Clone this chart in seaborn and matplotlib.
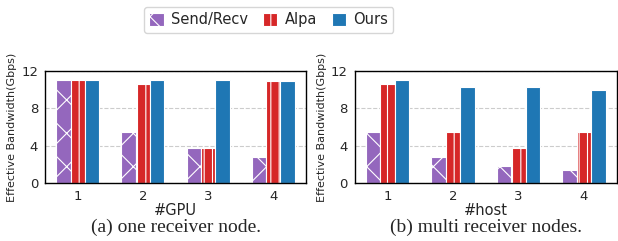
import matplotlib
matplotlib.use("Agg")
import matplotlib.pyplot as plt
import pandas as pd
import seaborn as sns

METHODS = ["Send/Recv", "Alpa", "Ours"]
COLORS = ["#9467bd", "#d62728", "#1f77b4"]
HATCHES = ["x", "||", ""]
X_TICKS = ["1", "2", "3", "4"]

# (a) one receiver node, x = #GPU
ONE_SENDRECV = [11.0, 5.5, 3.7, 2.8]
ONE_ALPA = [11.0, 10.6, 3.7, 10.9]
ONE_OURS = [11.0, 11.0, 11.0, 10.9]

# (b) multi receiver nodes, x = #host
MULTI_SENDRECV = [5.5, 2.8, 1.8, 1.4]
MULTI_ALPA = [10.6, 5.4, 3.7, 5.5]
MULTI_OURS = [11.0, 10.3, 10.3, 10.0]


def to_frame(series):
    rows = []
    for method, vals in zip(METHODS, series):
        for x, v in zip(X_TICKS, vals):
            rows.append({"x": x, "method": method, "bw": v})
    return pd.DataFrame(rows)


def draw(ax, df, xlabel, caption):
    sns.barplot(data=df, x="x", y="bw", hue="method", hue_order=METHODS,
                palette=COLORS, saturation=1, width=0.66, edgecolor="white",
                linewidth=0.8, ax=ax, legend=False)
    for cont, hatch in zip(ax.containers, HATCHES):
        for p in cont:
            p.set_hatch(hatch)
    ax.set_ylim(0, 12)
    ax.set_yticks([0, 4, 8, 12])
    ax.set_xlim(-0.5, 3.5)
    ax.yaxis.grid(True, linestyle="--", color="#cccccc", linewidth=0.8)
    ax.set_axisbelow(True)
    for s in ax.spines.values():
        s.set_visible(True)
        s.set_color("black")
        s.set_linewidth(1.0)
    ax.tick_params(axis="both", labelsize=9.5, length=3, pad=2)
    ax.set_xlabel(xlabel, fontsize=10.5, labelpad=0)
    ax.set_ylabel("Effective Bandwidth(Gbps)", fontsize=8, labelpad=3)
    ax.text(0.5, -0.32, caption, transform=ax.transAxes, ha="center",
            va="top", fontsize=14, family="Liberation Serif")


sns.set_style("white")
plt.rcParams["font.family"] = ["DejaVu Sans"]
plt.rcParams["hatch.linewidth"] = 0.8

fig = plt.figure(figsize=(6.18, 2.41), dpi=100)
ax1 = fig.add_axes([0.073, 0.241, 0.422, 0.465])
ax2 = fig.add_axes([0.574, 0.241, 0.424, 0.465])

draw(ax1, to_frame([ONE_SENDRECV, ONE_ALPA, ONE_OURS]), "#GPU",
     "(a) one receiver node.")
draw(ax2, to_frame([MULTI_SENDRECV, MULTI_ALPA, MULTI_OURS]), "#host",
     "(b) multi receiver nodes.")

handles = [c.patches[0] for c in ax1.containers]
fig.legend(handles, METHODS, loc="upper center", ncol=3, fontsize=10.5,
           bbox_to_anchor=(0.435, 1.0), frameon=True, handlelength=1.0,
           handleheight=1.0, columnspacing=1.0, handletextpad=0.5,
           borderpad=0.35)

fig.savefig("out.png", dpi=100)
